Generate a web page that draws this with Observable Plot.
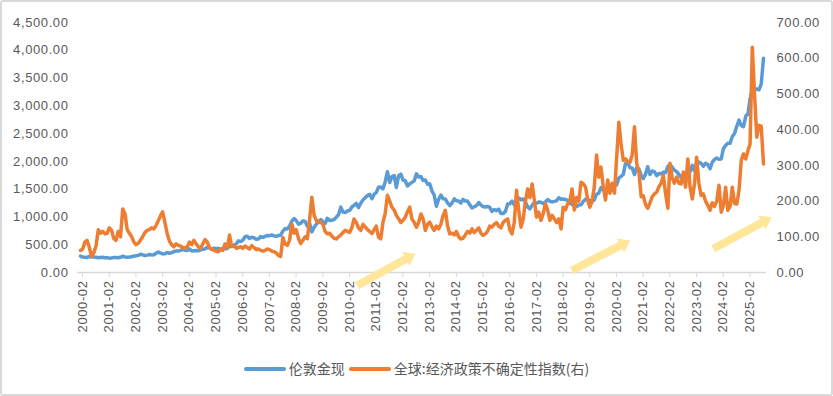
<!DOCTYPE html>
<html><head><meta charset="utf-8">
<script src="https://cdn.jsdelivr.net/npm/d3@7"></script>
<script src="https://cdn.jsdelivr.net/npm/@observablehq/plot@0.6"></script>
<style>
html,body{margin:0;padding:0;background:#fff;}
#wrap{position:relative;width:833px;height:396px;overflow:hidden;font-family:"Liberation Sans","Noto Sans CJK SC",sans-serif;}
#frame{position:absolute;left:0;top:0;width:833px;height:396px;box-sizing:border-box;border:2px solid #d9d9d9;border-radius:3px;pointer-events:none;}
#chart svg text{letter-spacing:0.6px;}
#legend{position:absolute;left:0;top:358px;width:833px;text-align:center;font-family:"Noto Sans CJK SC",sans-serif;font-size:14px;color:#595959;line-height:20px;white-space:nowrap;}
.sw{display:inline-block;width:42px;height:4px;border-radius:2px;vertical-align:middle;margin-right:3px;position:relative;top:-1px;}
.item{display:inline-block;margin:0 2px;}
</style></head>
<body><div id="wrap"><div id="chart"></div><div id="legend"></div><div id="frame"></div></div>
<script>
// ---- data ----
const startMonth = "2000-02";
const seriesNames = ["伦敦金现", "全球:经济政策不确定性指数(右)"];
const seriesColors = ["#5B9BD5", "#ED7D31"];
// London gold spot (monthly, 2000-02 .. 2025-09)
const goldPrice = [
  294,278,275,272,288,277,277,274,265,269,273,
  265,267,258,263,268,271,266,273,293,279,276,277,
  282,297,301,308,327,319,305,313,324,317,319,347,
  368,348,335,337,361,346,355,376,388,386,398,416,
  400,396,424,389,393,396,391,407,416,426,453,438,
  422,436,428,436,415,437,429,433,473,471,496,513,
  569,556,582,644,653,614,633,624,599,604,647,632,
  651,666,662,677,659,651,666,672,743,790,784,834,
  923,972,934,871,886,930,918,833,885,731,815,870,
  920,952,917,883,976,935,939,956,996,1040,1176,1088,
  1079,1110,1116,1179,1208,1244,1169,1246,1307,1347,1384,1406,
  1327,1411,1439,1536,1537,1506,1629,1814,1620,1722,1746,1531,
  1744,1770,1663,1651,1558,1599,1622,1649,1776,1719,1726,1658,
  1664,1589,1598,1469,1395,1192,1315,1395,1327,1324,1253,1205,
  1251,1327,1292,1289,1251,1315,1285,1286,1217,1164,1183,1206,
  1260,1214,1187,1180,1189,1171,1098,1135,1114,1142,1062,1060,
  1097,1235,1237,1286,1215,1321,1342,1309,1323,1272,1178,1146,
  1213,1256,1245,1267,1266,1242,1268,1312,1283,1271,1280,1291,
  1345,1318,1324,1315,1298,1251,1224,1201,1187,1215,1218,1279,
  1320,1313,1295,1284,1306,1409,1428,1528,1485,1511,1464,1523,
  1590,1586,1577,1703,1729,1768,1963,1970,1887,1880,1763,1891,
  1863,1743,1691,1768,1903,1763,1826,1816,1743,1783,1775,1806,
  1797,1909,1942,1896,1842,1817,1766,1711,1661,1634,1769,1814,
  1928,1827,1969,1990,1963,1912,1965,1942,1870,1984,2036,2062,
  2040,2044,2230,2286,2327,2327,2448,2503,2635,2744,2643,2625,
  2812,2858,3124,3288,3289,3303,3290,3390,3858
];
// Global economic policy uncertainty index (right axis)
const epuIndex = [
  62,65,85,90,70,45,55,75,120,110,115,
  108,110,125,118,95,90,115,100,178,165,120,110,
  100,85,78,82,90,100,112,118,120,125,122,132,
  145,160,170,140,110,88,78,72,80,76,74,70,
  68,72,85,78,90,80,72,68,80,92,85,70,
  65,62,60,58,65,62,80,70,105,72,75,68,
  70,72,68,74,70,66,75,70,64,66,62,60,
  62,66,64,60,58,55,48,45,98,80,76,90,
  136,110,120,95,81,90,100,95,150,211,160,146,
  140,141,135,115,108,110,102,96,94,100,105,112,
  118,115,112,125,150,140,125,118,135,128,120,115,
  109,120,130,99,94,140,165,216,200,183,175,160,
  150,140,146,155,170,183,150,140,127,140,164,150,
  118,135,141,128,118,130,122,135,160,174,130,108,
  110,105,115,100,94,96,105,115,110,122,112,118,
  125,110,104,108,115,130,127,135,140,130,125,140,
  146,150,120,108,140,230,175,127,150,200,234,210,
  248,200,155,169,146,165,193,175,146,160,150,140,
  150,122,183,175,192,200,234,175,210,200,253,248,
  240,202,183,200,239,329,267,295,240,203,259,222,
  250,222,318,421,360,314,318,310,309,330,408,306,
  280,212,215,190,180,195,212,220,225,240,250,272,
  220,180,306,265,250,267,250,248,281,239,318,240,
  206,250,323,250,216,220,200,188,174,195,185,200,
  244,169,188,239,174,185,239,193,192,230,314,332,
  318,342,360,631,500,379,412,410,304
];
const leftTicks = [0,500,1000,1500,2000,2500,3000,3500,4000,4500];
const rightTicks = [0,100,200,300,400,500,600,700];
const xTickLabels = ["2000-02","2001-02","2002-02","2003-02","2004-02","2005-02","2006-02","2007-02","2008-02","2009-02","2010-02","2011-02","2012-02","2013-02","2014-02","2015-02","2016-02","2017-02","2018-02","2019-02","2020-02","2021-02","2022-02","2023-02","2024-02","2025-02"];
// annotation arrows (date, left-axis units)
const arrowStart = [["2010-06-13",-234],["2018-06-28",36],["2023-10-16",427]];
const arrowEnd   = [["2012-08-19",337],["2020-09-03",576],["2025-12-22",995]];
const arrowColor = "#FFE699";

// ---- build ----
const k = 4500 / 700;
const parseMonth = d3.utcParse("%Y-%m");
const parseDay = d3.utcParse("%Y-%m-%d");
const t0 = parseMonth(startMonth);
const data = goldPrice.map((g, i) => ({date: d3.utcMonth.offset(t0, i), gold: g, epu: epuIndex[i]}));
const tEnd = data[data.length - 1].date;
const xTicks = xTickLabels.map(parseMonth);

const base = {
  width: 833, height: 345,
  marginTop: 22, marginBottom: 73, marginLeft: 80, marginRight: 70,
  x: {type: "utc", domain: [t0, tEnd]},
  y: {domain: [0, 4500]},
  style: {fontFamily: '"Liberation Sans","Noto Sans CJK SC",sans-serif', fontSize: "13px", color: "#595959", background: "transparent"}
};
const probe = Plot.plot({...base, marks: [Plot.ruleY([0])]});
const sx = probe.scale("x"), sy = probe.scale("y");
const arrows = arrowStart.map((s, i) => {
  const a = {x1: parseDay(s[0]), y1: s[1], x2: parseDay(arrowEnd[i][0]), y2: arrowEnd[i][1]};
  const dx = sx.apply(a.x2) - sx.apply(a.x1), dy = sy.apply(a.y2) - sy.apply(a.y1);
  a.angle = Math.atan2(dx, -dy) * 180 / Math.PI;
  return a;
});
const headSymbol = {draw(ctx) { ctx.moveTo(0, 0); ctx.lineTo(-8, 11); ctx.lineTo(8, 11); ctx.closePath(); }};

const chart = Plot.plot({
  ...base,
  marks: [
    Plot.ruleY([0], {stroke: "#d9d9d9", strokeWidth: 1.5, insetLeft: -3, insetRight: -3}),
    Plot.axisY(leftTicks, {anchor: "left", tickSize: 0, tickPadding: 12, tickFormat: d3.format(",.2f"), label: null}),
    Plot.axisY(rightTicks.map(v => v * k), {anchor: "right", tickSize: 0, tickPadding: 13, tickFormat: d => (d / k).toFixed(2), label: null}),
    Plot.axisX(xTicks, {anchor: "bottom", tickSize: 5, tickPadding: 3, tickRotate: -90, tickFormat: d3.utcFormat("%Y-%m"), stroke: "#d9d9d9", fill: "#595959", label: null, dx: 2}),
    Plot.line(data, {x: "date", y: "gold", stroke: seriesColors[0], strokeWidth: 3.5, strokeLinejoin: "round"}),
    Plot.line(data, {x: "date", y: d => d.epu * k, stroke: seriesColors[1], strokeWidth: 3.5, strokeLinejoin: "round"}),
    Plot.arrow(arrows, {x1: "x1", y1: "y1", x2: "x2", y2: "y2", stroke: arrowColor, strokeWidth: 8, headLength: 0, insetEnd: 9, strokeLinecap: "butt"}),
    Plot.dot(arrows, {x: "x2", y: "y2", symbol: headSymbol, r: 5, fill: arrowColor, stroke: "none", rotate: "angle"})
  ]
});
document.getElementById("chart").appendChild(chart);

const legend = document.getElementById("legend");
seriesNames.forEach((n, i) => {
  const item = document.createElement("span");
  item.className = "item";
  const sw = document.createElement("span");
  sw.className = "sw";
  sw.style.background = seriesColors[i];
  item.appendChild(sw);
  item.appendChild(document.createTextNode(n));
  legend.appendChild(item);
});
</script></body></html>
